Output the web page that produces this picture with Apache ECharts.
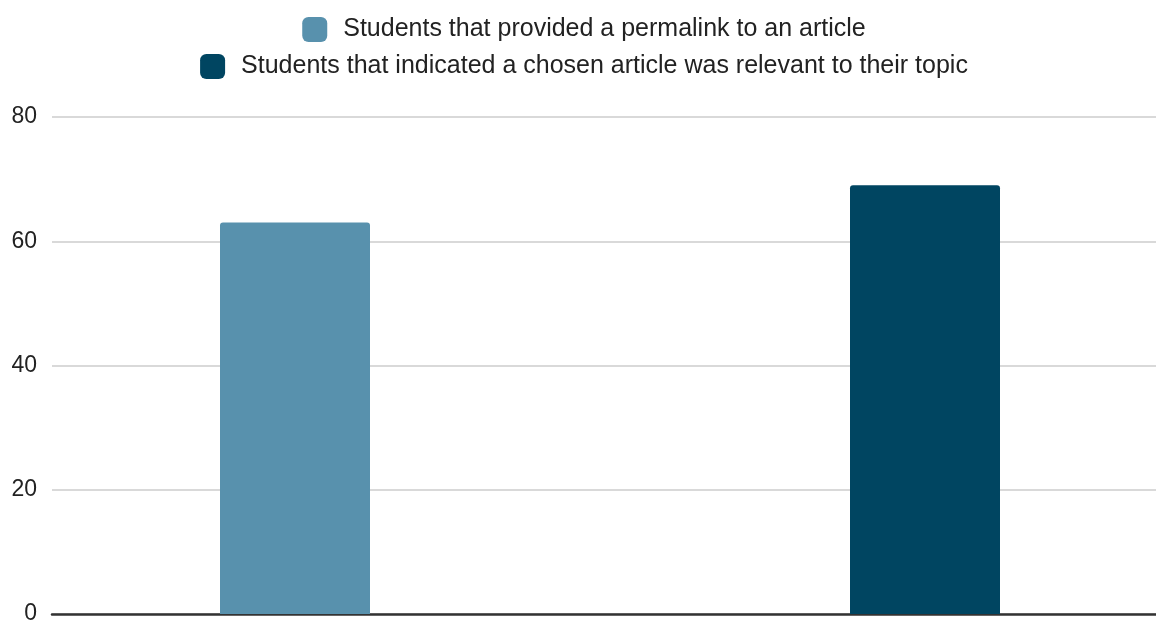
<!DOCTYPE html>
<html>
<head>
<meta charset="utf-8">
<script src="https://cdn.jsdelivr.net/npm/echarts@6/dist/echarts.min.js"></script>
<style>
  html, body { margin: 0; padding: 0; background: #fff; overflow: hidden; }
  /* the source picture is cut a little on the right, so the chart is drawn a bit wider and clipped */
  #wrap { position: relative; width: 1156px; height: 620px; overflow: hidden; }
  #chart { position: absolute; left: 0; top: 0; width: 1168px; height: 620px; }
</style>
</head>
<body>
<div id="wrap"><div id="chart"></div></div>
<script>
// data
const categories = [""];
const seriesNames = [
  "Students that provided a permalink to an article",
  "Students that indicated a chosen article was relevant to their topic"
];
const permalinkValues = [63];
const relevantValues = [69];
const yTicks = { min: 0, max: 80, interval: 20 };

const chart = echarts.init(document.getElementById("chart"), null, { width: 1168, height: 620 });

const legendText = {
  fontFamily: "Liberation Sans, Arial, sans-serif",
  fontSize: 25,
  color: "#222",
  padding: [0, 0, 0, 11]
};

chart.setOption({
  animation: false,
  color: ["#5891ad", "#004561"],
  legend: [
    {
      data: [seriesNames[0]],
      left: "center",
      top: 12,
      itemWidth: 25,
      itemHeight: 25,
      icon: "roundRect",
      textStyle: legendText
    },
    {
      data: [seriesNames[1]],
      left: "center",
      top: 49,
      itemWidth: 25,
      itemHeight: 25,
      icon: "roundRect",
      textStyle: legendText
    }
  ],
  // the "0" label is cut by the bottom edge in the source, so let it overflow
  grid: { left: 52, right: 0, top: 117, bottom: 6, containLabel: false, outerBoundsMode: "none" },
  xAxis: {
    type: "category",
    data: categories,
    axisTick: { show: false },
    axisLabel: { show: false },
    axisLine: { lineStyle: { color: "#333", width: 2.5 } }
  },
  yAxis: {
    type: "value",
    min: yTicks.min,
    max: yTicks.max,
    interval: yTicks.interval,
    axisLine: { show: false },
    axisTick: { show: false },
    axisLabel: {
      margin: 15,
      fontFamily: "Liberation Sans, Arial, sans-serif",
      fontSize: 23,
      color: "#222"
    },
    splitLine: { lineStyle: { color: "#ccc", width: 1.5 } }
  },
  series: [
    {
      name: seriesNames[0],
      type: "bar",
      data: permalinkValues,
      barWidth: 150,
      barGap: "320%",
      itemStyle: { borderRadius: [3, 3, 0, 0] }
    },
    {
      name: seriesNames[1],
      type: "bar",
      data: relevantValues,
      barWidth: 150,
      itemStyle: { borderRadius: [3, 3, 0, 0] }
    }
  ]
});
</script>
</body>
</html>
